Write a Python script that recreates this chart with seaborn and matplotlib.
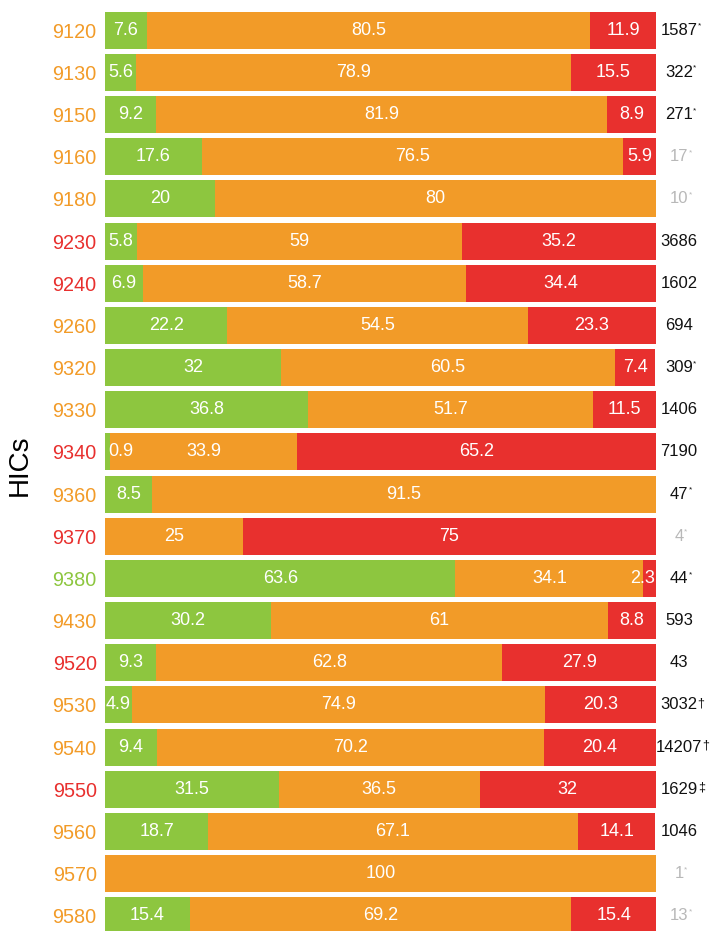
import matplotlib
matplotlib.use("Agg")
import matplotlib.pyplot as plt
import seaborn as sns
import pandas as pd
import numpy as np

hics = ["9120", "9130", "9150", "9160", "9180", "9230", "9240", "9260", "9320", "9330",
        "9340", "9360", "9370", "9380", "9430", "9520", "9530", "9540", "9550", "9560",
        "9570", "9580"]
green = [7.6, 5.6, 9.2, 17.6, 20, 5.8, 6.9, 22.2, 32, 36.8,
         0.9, 8.5, 0, 63.6, 30.2, 9.3, 4.9, 9.4, 31.5, 18.7, 0, 15.4]
orange = [80.5, 78.9, 81.9, 76.5, 80, 59, 58.7, 54.5, 60.5, 51.7,
          33.9, 91.5, 25, 34.1, 61, 62.8, 74.9, 70.2, 36.5, 67.1, 100, 69.2]
red = [11.9, 15.5, 8.9, 5.9, 0, 35.2, 34.4, 23.3, 7.4, 11.5,
       65.2, 0, 75, 2.3, 8.8, 27.9, 20.3, 20.4, 32, 14.1, 0, 15.4]
label_cat = ["o", "o", "o", "o", "o", "r", "r", "o", "o", "o",
             "r", "o", "r", "g", "o", "r", "o", "o", "r", "o", "o", "o"]
counts = ["1587", "322", "271", "17", "10", "3686", "1602", "694", "309", "1406",
          "7190", "47", "4", "44", "593", "43", "3032", "14207", "1629", "1046", "1", "13"]
count_sup = ["*", "*", "*", "*", "*", "", "", "", "*", "",
             "", "*", "*", "*", "", "", "†", "†", "‡", "", "*", "*"]
count_gray = [False, False, False, True, True, False, False, False, False, False,
              False, False, True, False, False, False, False, False, False, False, True, True]

C_GREEN = "#8dc63f"
C_ORANGE = "#f29b28"
C_RED = "#e8302e"
C_GRAY = "#b8b8b8"
cat_colors = {"g": C_GREEN, "o": C_ORANGE, "r": C_RED}

plt.rcParams["font.family"] = ["Liberation Sans", "DejaVu Sans"]

df = pd.DataFrame({"HIC": hics, "green": green, "orange": orange, "red": red})
df["c_go"] = df["green"] + df["orange"]
df["c_all"] = df["c_go"] + df["red"]

fig = plt.figure(figsize=(7.16, 9.31), dpi=100)
ax = fig.add_axes([105 / 716, 0, (656 - 105) / 716, 1])

W = 0.877
sns.barplot(data=df, y="HIC", x="c_all", order=hics, color=C_RED, width=W,
            orient="h", ax=ax, saturation=1, linewidth=0)
sns.barplot(data=df, y="HIC", x="c_go", order=hics, color=C_ORANGE, width=W,
            orient="h", ax=ax, saturation=1, linewidth=0)
sns.barplot(data=df, y="HIC", x="green", order=hics, color=C_GREEN, width=W,
            orient="h", ax=ax, saturation=1, linewidth=0)

pitch = 42.17
top_px = 30.2
ax.set_ylim((931 - top_px) / pitch, -top_px / pitch)
ax.set_xlim(0, 100)

for s in ax.spines.values():
    s.set_visible(False)
ax.tick_params(axis="y", length=0, pad=6, labelsize=14.3)
ax.tick_params(axis="x", length=0, labelbottom=False)
ax.set_xlabel("")
ax.set_ylabel("HICs", fontsize=20, labelpad=14)
for lab, cat in zip(ax.get_yticklabels(), label_cat):
    lab.set_color(cat_colors[cat])

VFS = 13
# segment labels
for i in range(len(hics)):
    segs = [green[i], orange[i], red[i]]
    left = 0
    for j, v in enumerate(segs):
        if v > 0:
            if v < 3 and j == 0:
                ax.text(left + 0.5, i, f"{v:g}", ha="left", va="center",
                        color="white", fontsize=VFS)
            elif v < 3 and j == 2:
                ax.text(99.8, i, f"{v:g}", ha="right", va="center",
                        color="white", fontsize=VFS)
            else:
                ax.text(left + v / 2, i, f"{v:g}", ha="center", va="center",
                        color="white", fontsize=VFS)
        left += v

# right-hand counts
for i in range(len(hics)):
    col = C_GRAY if count_gray[i] else "#111111"
    t = ax.text(104.2, i, counts[i], ha="center", va="center", color=col,
                fontsize=12, clip_on=False)
    if count_sup[i]:
        fs = 6 if count_sup[i] == "*" else 9
        ax.annotate(count_sup[i], xy=(1.0, 1.0), xycoords=t, ha="left", va="top",
                    color=col, fontsize=fs, annotation_clip=False)

fig.savefig("out.png", dpi=100)
